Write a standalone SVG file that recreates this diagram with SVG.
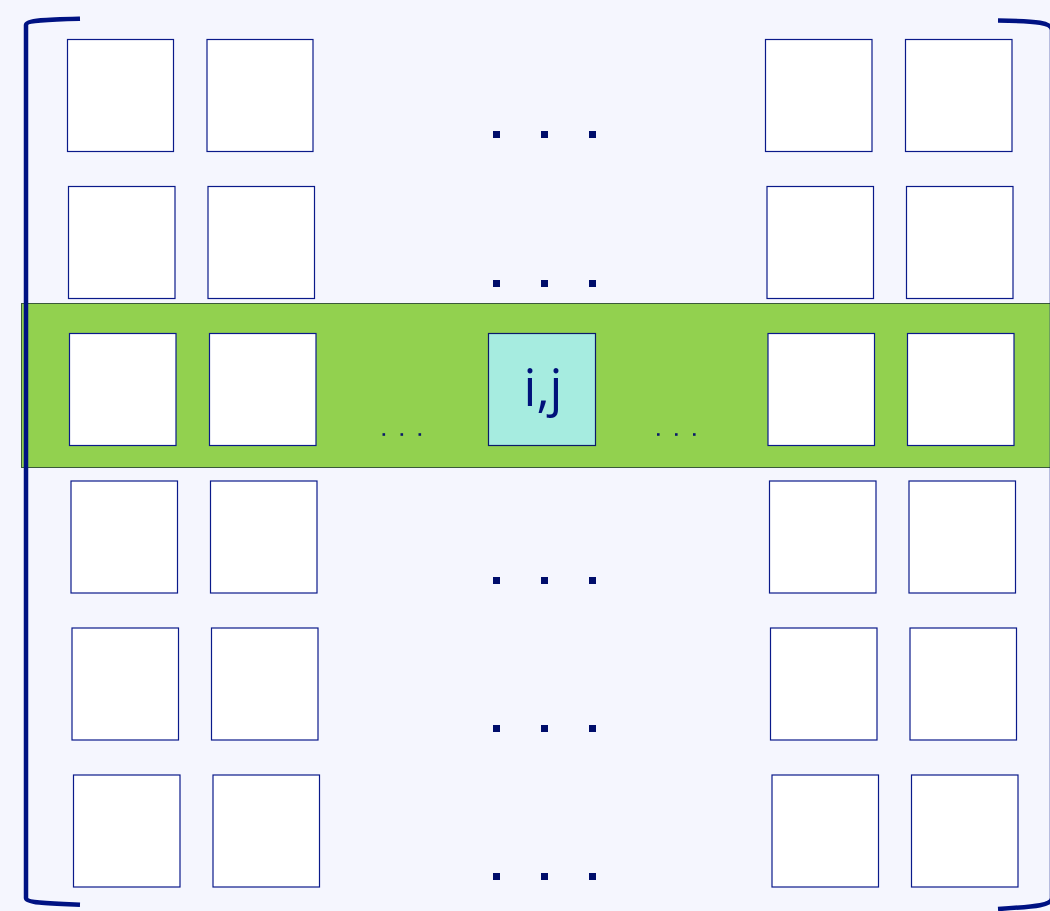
<svg xmlns="http://www.w3.org/2000/svg" width="1050" height="911" viewBox="0 0 1050 911">
<style>
.cell{fill:#ffffff;stroke:#0a1a8a;stroke-width:1.2}
.br{fill:none;stroke:#001283;stroke-width:4.5}
.dot{fill:#000d6b}
.sd{fill:#0a1a6a}
</style>
<rect x="0" y="0" width="1050" height="911" fill="#f5f6fe"/>
<g id="band"><rect x="21.5" y="303.5" width="1030" height="164" fill="#92d14f" stroke="#3a5a3a" stroke-width="1"/></g>
<g id="brackets">
<path class="br" d="M80,18.7 C48,19.5 26,20 26,25 L26,898 C26,903 48,903.5 80,904.7"/>
<path class="br" d="M998,20.5 C1038,21 1052,23 1052,30 L1052,898 C1052,905 1038,906.5 998,909"/>
</g>
<g id="row1">
<rect class="cell" x="67.5" y="39.5" width="106" height="112"/>
<rect class="cell" x="207" y="39.5" width="106" height="112"/>
<rect class="cell" x="765.5" y="39.5" width="106.5" height="112"/>
<rect class="cell" x="905.5" y="39.5" width="106.5" height="112"/>
</g>
<g id="row2">
<rect class="cell" x="68.5" y="186.5" width="106.5" height="112"/>
<rect class="cell" x="208" y="186.5" width="106.5" height="112"/>
<rect class="cell" x="767" y="186.5" width="106.5" height="112"/>
<rect class="cell" x="906.5" y="186.5" width="106.5" height="112"/>
</g>
<g id="row3">
<rect class="cell" x="69.5" y="333.5" width="106.5" height="112"/>
<rect class="cell" x="209.5" y="333.5" width="106.5" height="112"/>
<rect class="cell" x="768" y="333.5" width="106.5" height="112"/>
<rect class="cell" x="907.5" y="333.5" width="106.5" height="112"/>
</g>
<g id="cell-ij">
<rect x="488.5" y="333.5" width="107" height="112" fill="#a6ece0" stroke="#0a1a6a" stroke-width="1.2"/>
<text x="543" y="406" text-anchor="middle" font-family="'Open Sans','DejaVu Sans',sans-serif" font-size="51" fill="#00127a">i,j</text>
</g>
<g id="row4">
<rect class="cell" x="71" y="481" width="106.5" height="112"/>
<rect class="cell" x="210.5" y="481" width="106.5" height="112"/>
<rect class="cell" x="769.5" y="481" width="106.5" height="112"/>
<rect class="cell" x="909" y="481" width="106.5" height="112"/>
</g>
<g id="row5">
<rect class="cell" x="72" y="628" width="106.5" height="112"/>
<rect class="cell" x="211.5" y="628" width="106.5" height="112"/>
<rect class="cell" x="770.5" y="628" width="106.5" height="112"/>
<rect class="cell" x="910" y="628" width="106.5" height="112"/>
</g>
<g id="row6">
<rect class="cell" x="73.5" y="775" width="106.5" height="112"/>
<rect class="cell" x="213" y="775" width="106.5" height="112"/>
<rect class="cell" x="772" y="775" width="106.5" height="112"/>
<rect class="cell" x="911.5" y="775" width="106.5" height="112"/>
</g>
<g id="ellipses">
<rect class="dot" x="493" y="131" width="7" height="7"/><rect class="dot" x="541" y="131" width="7" height="7"/><rect class="dot" x="589" y="131" width="7" height="7"/>
<rect class="dot" x="493" y="280" width="7" height="7"/><rect class="dot" x="541" y="280" width="7" height="7"/><rect class="dot" x="589" y="280" width="7" height="7"/>
<rect class="dot" x="493" y="577" width="7" height="7"/><rect class="dot" x="541" y="577" width="7" height="7"/><rect class="dot" x="589" y="577" width="7" height="7"/>
<rect class="dot" x="493" y="725" width="7" height="7"/><rect class="dot" x="541" y="725" width="7" height="7"/><rect class="dot" x="589" y="725" width="7" height="7"/>
<rect class="dot" x="493" y="873" width="7" height="7"/><rect class="dot" x="541" y="873" width="7" height="7"/><rect class="dot" x="589" y="873" width="7" height="7"/>
<rect class="sd" x="382.5" y="433.2" width="2.6" height="2.6"/><rect class="sd" x="400.5" y="433.2" width="2.6" height="2.6"/><rect class="sd" x="418.5" y="433.2" width="2.6" height="2.6"/>
<rect class="sd" x="657" y="433.2" width="2.6" height="2.6"/><rect class="sd" x="675" y="433.2" width="2.6" height="2.6"/><rect class="sd" x="693" y="433.2" width="2.6" height="2.6"/>
</g>
</svg>
